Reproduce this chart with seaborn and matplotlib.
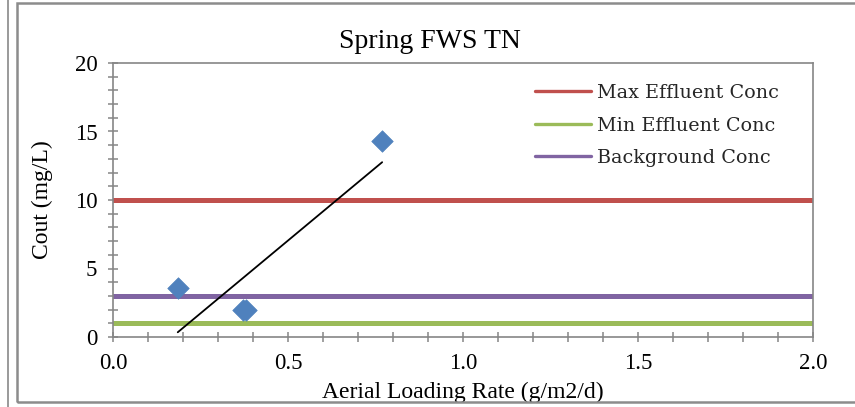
import numpy as np
import pandas as pd
import matplotlib
matplotlib.use("Agg")
import matplotlib.pyplot as plt
from matplotlib.lines import Line2D
from matplotlib.patches import Rectangle
import seaborn as sns

# Measured outlet concentrations vs. areal loading rate
loading_rate = [0.185, 0.370, 0.379, 0.769]
cout = [3.55, 2.0, 2.0, 14.3]

# Reference concentration levels
ref_names = ["Max Effluent Conc", "Min Effluent Conc", "Background Conc"]
ref_values = [10.0, 1.0, 3.0]
ref_colors = ["#C0504D", "#9BBB59", "#8064A2"]
x_span = [0.0, 2.0]

sns.set_theme(style="white")
plt.rcParams["font.family"] = ["Liberation Serif", "DejaVu Serif"]

W, H = 855, 407
fig = plt.figure(figsize=(W / 100, H / 100), dpi=100)
ax = fig.add_axes([113 / W, (H - 337) / H, 700 / W, 274 / H])

# Horizontal reference lines spanning the x range
for name, val, col in zip(ref_names, ref_values, ref_colors):
    ref_df = pd.DataFrame({"x": x_span, "y": [val, val]})
    sns.lineplot(data=ref_df, x="x", y="y", ax=ax, color=col, lw=3.6,
                 label=name, zorder=2)

# Data points
pts = pd.DataFrame({"rate": loading_rate, "cout": cout})
sns.scatterplot(data=pts, x="rate", y="cout", ax=ax, marker="D", s=120,
                color="#4F81BD", edgecolor="#4F81BD", linewidth=0.5,
                zorder=3, legend=False)

# Linear trend line
sns.regplot(data=pts, x="rate", y="cout", ax=ax, scatter=False, ci=None,
            truncate=True, color="black", line_kws={"lw": 1.3, "zorder": 4})

ax.set_xlim(0, 2)
ax.set_ylim(0, 20)
ax.set_xticks(np.arange(0, 2.01, 0.5))
ax.set_xticklabels([f"{v:.1f}" for v in np.arange(0, 2.01, 0.5)])
ax.set_xticks(np.arange(0, 2.01, 0.1), minor=True)
ax.set_yticks(np.arange(0, 21, 5))
ax.set_yticks(np.arange(0, 21, 1), minor=True)

axis_gray = "#868686"
for side in ["left", "bottom", "top", "right"]:
    ax.spines[side].set_visible(True)
    ax.spines[side].set_color(axis_gray)
    ax.spines[side].set_linewidth(1.2)
ax.tick_params(which="both", direction="inout", length=6.5, width=1.1,
               color=axis_gray, left=True, bottom=True)
ax.tick_params(axis="x", which="major", labelsize=16.5, pad=8, labelcolor="black")
ax.tick_params(axis="y", which="major", labelsize=16.5, pad=8, labelcolor="black")

ax.set_xlabel("Aerial Loading Rate (g/m2/d)", fontsize=17, color="black")
ax.set_ylabel("Cout (mg/L)", fontsize=17, color="black")
ax.xaxis.set_label_coords(0.5, -0.162)
ax.yaxis.set_label_coords(-0.086, 0.5)

fig.text(430 / W, 1 - 48 / H, "Spring FWS TN", fontsize=20, ha="center",
         va="baseline", color="black")

handles = [Line2D([], [], color=c, lw=2.4) for c in ref_colors]
leg = ax.legend(handles, ref_names, loc="upper left",
                bbox_to_anchor=(535 / W, 1 - 84 / H),
                bbox_transform=fig.transFigure, frameon=False,
                prop={"family": "DejaVu Serif", "size": 13.8},
                handlelength=2.9, handletextpad=0.32, labelspacing=0.76,
                borderaxespad=0, borderpad=0)

# Chart frame and neighbouring border
fig.add_artist(Rectangle((17 / W, 5 / H), 1.0, (404 - 5) / H, fill=False,
                         edgecolor="#8C8C8C", lw=1.8, transform=fig.transFigure))
fig.add_artist(Line2D([8 / W, 8 / W], [0, 1], color="#9A9A9A", lw=1.4,
                      transform=fig.transFigure))

fig.savefig("out.png", dpi=100)
